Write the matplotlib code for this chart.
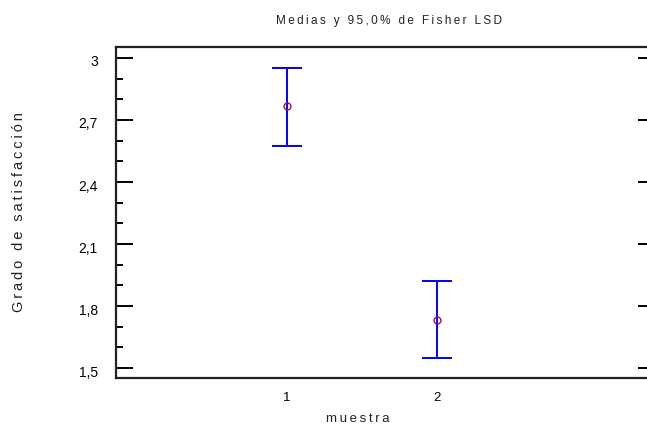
import numpy as np
import matplotlib.pyplot as plt
import matplotlib.transforms as mtransforms
from matplotlib.ticker import MultipleLocator, FuncFormatter

plt.rcParams['font.family'] = ['Liberation Sans', 'DejaVu Sans']

# data
groups = [1, 2]
means = [2.768, 1.733]
upper = [2.952, 1.921]
lower = [2.574, 1.549]

yticks = [1.5, 1.8, 2.1, 2.4, 2.7, 3.0]


def spaced(s, sp='\u2009'):
    # the original renders text with wide letter spacing
    return sp.join(s)


W, H = 647, 426
fig = plt.figure(figsize=(W / 100, H / 100), dpi=100)
# axes box in pixels: left 116, right ~655 (cut at image edge), top 47, bottom 378
ax = fig.add_axes([116 / W, 1 - 378 / H, (655 - 116) / W, (378 - 47) / H])

means = np.array(means)
err = np.array([means - np.array(lower), np.array(upper) - means])
ax.errorbar(groups, means, yerr=err, fmt='none', ecolor='#0000ff',
            elinewidth=1.4, capsize=11, capthick=1.4)
ax.plot(groups, means, 'o', mfc='none', mec='#a01050', ms=5, mew=1.0)

ax.set_xlim(-0.14, 3.453)
ax.set_ylim(1.452, 3.053)

ax.set_xticks(groups)
ax.set_xticklabels([str(g) for g in groups])
ax.tick_params(axis='x', length=0, pad=10, labelsize=9.5)

ax.set_yticks(yticks)
ax.yaxis.set_major_formatter(FuncFormatter(lambda v, p: ('%g' % round(v, 1)).replace('.', ',')))
ax.yaxis.set_minor_locator(MultipleLocator(0.1))
ax.tick_params(axis='y', which='major', direction='in', length=12, width=1.4,
               labelsize=10, pad=13, right=True)
ax.tick_params(axis='y', which='minor', direction='in', length=5, width=1.4)
ax.tick_params(axis='y', which='minor', right=False)

# y tick labels sit a little below their ticks in the original
shift = mtransforms.ScaledTranslation(0, -3 / 100, fig.dpi_scale_trans)
for lab in ax.get_yticklabels():
    lab.set_transform(lab.get_transform() + shift)

for s in ax.spines.values():
    s.set_linewidth(1.6)
    s.set_color('#222222')

fig.text(389 / W, 1 - 21 / H, spaced('Medias y 95,0% de Fisher LSD'),
         ha='center', va='center', fontsize=8.5, color='#222222')
fig.text(358 / W, 1 - 419 / H, spaced('muestra'), ha='center', va='center',
         fontsize=9.5, color='#222222')
fig.text(19 / W, 1 - 212 / H, spaced('Grado de satisfacción'), ha='center', va='center',
         rotation=90, fontsize=10.5, color='#222222')

fig.savefig('out.png', dpi=100)
